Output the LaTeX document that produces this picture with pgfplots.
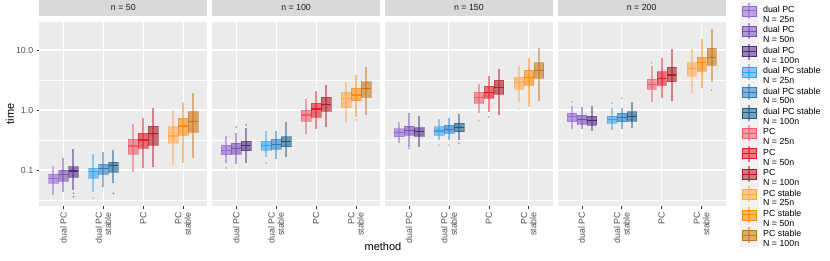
\documentclass[border=0pt]{standalone}
\usepackage{fontspec}
\setmainfont{Liberation Sans}
\usepackage{pgfplots}
\pgfplotsset{compat=1.18}
\definecolor{bg}{HTML}{EBEBEB}
\definecolor{strip}{HTML}{D9D9D9}
\definecolor{keybg}{HTML}{F2F2F2}
\definecolor{tickc}{HTML}{333333}
\definecolor{ticklab}{HTML}{4D4D4D}
\definecolor{dpcA}{HTML}{9466D6}
\definecolor{dpcB}{HTML}{7A4DB8}
\definecolor{dpcC}{HTML}{4E2A80}
\definecolor{dpsA}{HTML}{36A2EE}
\definecolor{dpsB}{HTML}{2A7EC2}
\definecolor{dpsC}{HTML}{1C5A86}
\definecolor{pcA}{HTML}{EE5A6A}
\definecolor{pcB}{HTML}{E31A26}
\definecolor{pcC}{HTML}{AC1A24}
\definecolor{pcsA}{HTML}{FFA94A}
\definecolor{pcsB}{HTML}{FF8A0A}
\definecolor{pcsC}{HTML}{C87414}
% box: position, lower whisker, q1, median, q3, upper whisker, colour
\newcommand{\bx}[7]{%
 \pgfmathsetmacro\xl{#1-0.12}\pgfmathsetmacro\xr{#1+0.12}%
 \addplot[forget plot, draw=#7, draw opacity=0.5, line width=2pt] coordinates {(#1,#2) (#1,#6)};
 \addplot[forget plot, draw=#7, draw opacity=0.5, fill=#7, fill opacity=0.6, line width=0.4pt] coordinates {(\xl,#3) (\xr,#3) (\xr,#5) (\xl,#5)} -- cycle;
 \addplot[forget plot, draw=#7, line width=1.2pt] coordinates {(\xl,#4) (\xr,#4)};
}
\newcommand{\ol}[3]{\addplot[forget plot, only marks, mark=*, mark size=0.6pt, color=#3, opacity=0.5] coordinates {(#1,#2)};}
\newcommand{\lk}[3]{\addlegendimage{legend image code/.code={
 \path (0pt,-9.9pt) rectangle (14pt,9.9pt);
 \fill[keybg, overlay] (-2pt,-9.9pt) rectangle (16pt,9.9pt);
 \draw[#1, line width=1.6pt, draw opacity=0.55] (7pt,-6.5pt) -- (7pt,9.5pt);
 \fill[#1, fill opacity=0.55] (0pt,-3.5pt) rectangle (14pt,6.5pt);
 \draw[#1, line width=1pt] (0pt,1.5pt) -- (14pt,1.5pt);}}
 \addlegendentry{\begin{tabular}{@{}l@{}}#2\\#3\end{tabular}}}
\pgfplotsset{
 every axis/.append style={
 anchor=south west, scale only axis, width=167.6pt, height=184pt,
 xmin=0.4, xmax=4.6,
 axis background/.style={fill=bg}, axis line style={draw=none},
 xtick={1,2,3,4}, xticklabels={dual PC, {dual PC\\stable}, PC, {PC\\stable}},
 xmajorgrids, ymajorgrids, yminorgrids,
 major grid style={white, line width=1.07pt}, minor grid style={white, line width=0.53pt},
 tick align=outside, major tick length=2.75pt, minor tick length=0pt,
 tick style={color=tickc, line width=0.6pt},
 x tick label style={rotate=90, anchor=east, align=right, font=\fontsize{8.8}{9.4}\selectfont, text=ticklab},
 y tick label style={font=\fontsize{8.8}{10}\selectfont, text=ticklab},
 title style={at={(0.5,1)}, anchor=south, yshift=0pt, fill=strip, minimum width=167.6pt, minimum height=17pt, inner sep=0pt, font=\fontsize{8.8}{10}\selectfont, text=black!90},
 }}
\begin{document}
\begin{tikzpicture}
\useasboundingbox (0,0) rectangle (830pt,260pt);
% ---------------- n = 50
\begin{axis}[at={(39.5pt,54pt)}, title={n = 50}, ymode=log, ymin=0.0251, ymax=29.3,
 ytick={0.1,1,10}, yticklabels={0.1,1.0,10.0}, minor ytick={0.0316228,0.316228,3.16228,31.6228},
 xtick pos=left, ytick pos=left]
\bx{0.75}{0.038}{0.061}{0.073}{0.086}{0.117}{dpcA}
\bx{1.00}{0.043}{0.066}{0.083}{0.100}{0.158}{dpcB}
\bx{1.25}{0.046}{0.077}{0.096}{0.114}{0.22}{dpcC}
\ol{1.25}{0.041}{dpcC}\ol{1.25}{0.036}{dpcC}
\bx{1.75}{0.043}{0.074}{0.094}{0.108}{0.185}{dpsA}
\ol{1.75}{0.034}{dpsA}
\bx{2.00}{0.052}{0.086}{0.107}{0.126}{0.20}{dpsB}
\bx{2.25}{0.061}{0.091}{0.117}{0.137}{0.215}{dpsC}
\ol{2.25}{0.041}{dpsC}
\bx{2.75}{0.093}{0.185}{0.251}{0.328}{0.58}{pcA}
\bx{3.00}{0.108}{0.23}{0.316}{0.41}{0.73}{pcB}
\bx{3.25}{0.112}{0.26}{0.40}{0.54}{1.07}{pcC}
\bx{3.75}{0.12}{0.285}{0.37}{0.53}{1.0}{pcsA}
\bx{4.00}{0.13}{0.38}{0.54}{0.73}{1.36}{pcsB}
\bx{4.25}{0.16}{0.43}{0.64}{0.94}{1.9}{pcsC}
\end{axis}
% ---------------- n = 100
\begin{axis}[at={(212.3pt,54pt)}, title={n = 100}, ymode=log, ymin=0.0251, ymax=29.3,
 ytick={0.1,1,10}, yticklabels={}, minor ytick={0.0316228,0.316228,3.16228,31.6228},
 xtick pos=left, ytick style={draw=none}]
\bx{0.75}{0.13}{0.18}{0.21}{0.26}{0.37}{dpcA}
\ol{0.75}{0.108}{dpcA}
\bx{1.00}{0.126}{0.185}{0.23}{0.28}{0.41}{dpcB}
\ol{1.00}{0.52}{dpcB}
\bx{1.25}{0.13}{0.21}{0.255}{0.30}{0.5}{dpcC}
\ol{1.25}{0.56}{dpcC}
\bx{1.75}{0.166}{0.215}{0.255}{0.30}{0.45}{dpsA}
\ol{1.75}{0.13}{dpsA}
\bx{2.00}{0.15}{0.22}{0.27}{0.33}{0.45}{dpsB}
\bx{2.25}{0.166}{0.245}{0.30}{0.36}{0.64}{dpsC}
\bx{2.75}{0.4}{0.66}{0.825}{1.0}{1.5}{pcA}
\bx{3.00}{0.48}{0.77}{1.04}{1.3}{2.1}{pcB}
\bx{3.25}{0.53}{0.97}{1.23}{1.64}{2.6}{pcC}
\bx{3.75}{0.6}{1.1}{1.56}{2.0}{2.97}{pcsA}
\bx{4.00}{0.76}{1.43}{1.78}{2.3}{3.83}{pcsB}
\ol{4.00}{0.68}{pcsB}
\bx{4.25}{0.83}{1.63}{2.3}{2.97}{5.3}{pcsC}
\end{axis}
% ---------------- n = 150
\begin{axis}[at={(385.1pt,54pt)}, title={n = 150}, ymode=log, ymin=0.0251, ymax=29.3,
 ytick={0.1,1,10}, yticklabels={}, minor ytick={0.0316228,0.316228,3.16228,31.6228},
 xtick pos=left, ytick style={draw=none}]
\bx{0.75}{0.28}{0.36}{0.42}{0.49}{0.64}{dpcA}
\bx{1.00}{0.245}{0.38}{0.46}{0.54}{0.9}{dpcB}
\ol{1.00}{0.23}{dpcB}
\bx{1.25}{0.245}{0.37}{0.435}{0.51}{0.79}{dpcC}
\bx{1.75}{0.316}{0.38}{0.447}{0.53}{0.7}{dpsA}
\ol{1.75}{0.26}{dpsA}
\bx{2.00}{0.316}{0.41}{0.476}{0.56}{0.73}{dpsB}
\ol{2.00}{0.26}{dpsB}
\bx{2.25}{0.316}{0.435}{0.51}{0.6}{0.86}{dpsC}
\ol{2.25}{0.28}{dpsC}
\bx{2.75}{0.89}{1.29}{1.63}{2.0}{2.7}{pcA}
\ol{2.75}{0.66}{pcA}
\bx{3.00}{0.94}{1.56}{1.97}{2.5}{3.7}{pcB}
\ol{3.00}{0.76}{pcB}
\bx{3.25}{0.83}{1.85}{2.39}{3.16}{4.76}{pcC}
\bx{3.75}{1.37}{2.2}{2.86}{3.5}{5.4}{pcsA}
\ol{3.75}{1.05}{pcsA}
\bx{4.00}{1.14}{2.6}{3.5}{4.6}{7.3}{pcsB}
\bx{4.25}{1.43}{3.37}{4.6}{6.15}{10.6}{pcsC}
\end{axis}
% ---------------- n = 200
\begin{axis}[at={(557.9pt,54pt)}, title={n = 200}, ymode=log, ymin=0.0251, ymax=29.3,
 ytick={0.1,1,10}, yticklabels={}, minor ytick={0.0316228,0.316228,3.16228,31.6228},
 xtick pos=left, ytick style={draw=none},
 legend cell align=left,
 legend style={at={(1,1)}, anchor=north west, xshift=16pt, yshift=20.15pt, draw=none, fill=none,
  font=\fontsize{8.8}{9.85}\selectfont, row sep=0pt, column sep=6pt, inner sep=0pt, nodes={inner sep=0.5pt}}]
\bx{0.75}{0.476}{0.64}{0.77}{0.9}{1.17}{dpcA}
\ol{0.75}{1.37}{dpcA}
\bx{1.00}{0.49}{0.58}{0.70}{0.83}{1.14}{dpcB}
\bx{1.25}{0.45}{0.56}{0.66}{0.79}{1.17}{dpcC}
\bx{1.75}{0.46}{0.61}{0.70}{0.79}{1.07}{dpsA}
\ol{1.75}{1.3}{dpsA}
\bx{2.00}{0.476}{0.64}{0.755}{0.88}{1.1}{dpsB}
\ol{2.00}{1.57}{dpsB}
\bx{2.25}{0.51}{0.66}{0.79}{0.94}{1.37}{dpsC}
\bx{2.75}{1.37}{2.2}{2.7}{3.24}{5.4}{pcA}
\ol{2.75}{6.1}{pcA}
\bx{3.00}{1.56}{2.6}{3.37}{4.35}{7.5}{pcB}
\bx{3.25}{1.43}{2.97}{3.83}{5.15}{10.2}{pcC}
\bx{3.75}{1.94}{3.7}{4.95}{6.15}{10.2}{pcsA}
\bx{4.00}{2.3}{4.5}{6.15}{7.7}{15}{pcsB}
\bx{4.25}{2.97}{5.6}{7.5}{10.6}{22.5}{pcsC}
\ol{4.25}{2.15}{pcsC}
\lk{dpcA}{dual PC}{N = 25n}
\lk{dpcB}{dual PC}{N = 50n}
\lk{dpcC}{dual PC}{N = 100n}
\lk{dpsA}{dual PC stable}{N = 25n}
\lk{dpsB}{dual PC stable}{N = 50n}
\lk{dpsC}{dual PC stable}{N = 100n}
\lk{pcA}{PC}{N = 25n}
\lk{pcB}{PC}{N = 50n}
\lk{pcC}{PC}{N = 100n}
\lk{pcsA}{PC stable}{N = 25n}
\lk{pcsB}{PC stable}{N = 50n}
\lk{pcsC}{PC stable}{N = 100n}
\end{axis}
\node[rotate=90, font=\fontsize{11}{13}\selectfont] at (10pt,146pt) {time};
\node[font=\fontsize{11}{13}\selectfont] at (383pt,13pt) {method};
\end{tikzpicture}
\end{document}
